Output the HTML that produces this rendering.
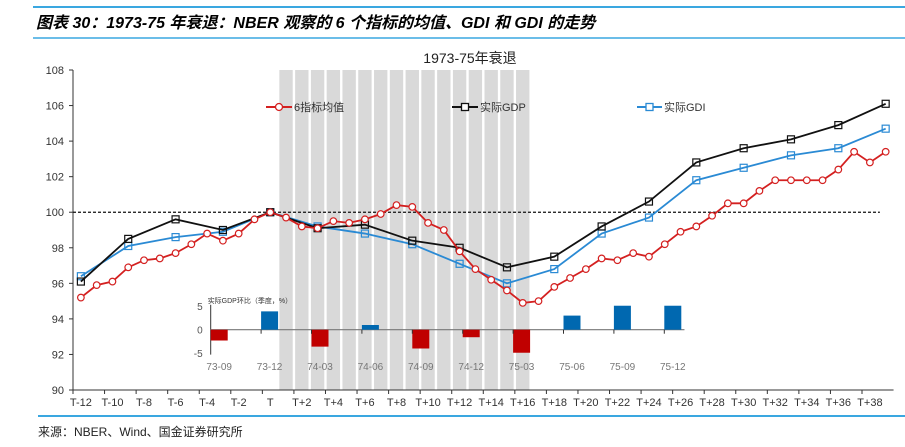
<!DOCTYPE html>
<html><head><meta charset="utf-8"><style>
body{margin:0;background:#fff;}
svg text{font-family:"Liberation Sans","Noto Sans CJK SC",sans-serif;}
</style></head><body>
<svg id="c" width="905" height="442" xmlns="http://www.w3.org/2000/svg">
<line x1="33" y1="7" x2="905" y2="7" stroke="#3aa7e0" stroke-width="2"/>
<text x="36" y="28" font-size="16" font-weight="bold" font-style="italic" fill="#000">图表 30：1973-75 年衰退：NBER 观察的 6 个指标的均值、GDI 和 GDI 的走势</text>
<line x1="33" y1="38" x2="905" y2="38" stroke="#3aa7e0" stroke-width="1.5"/>
<text x="470" y="63" font-size="14" text-anchor="middle" fill="#222">1973-75年衰退</text>
<g id="bands"></g>
<g id="axes"></g>
<g id="inset"></g>
<g id="lines"></g>
<g>
 <g><line x1="266" y1="107" x2="292" y2="107" stroke="#d42020" stroke-width="2"/><circle cx="279" cy="107" r="3.5" fill="#fff" stroke="#d42020" stroke-width="1.3"/><text x="294" y="111" font-size="11" fill="#333">6指标均值</text></g>
 <g><line x1="452" y1="107" x2="478" y2="107" stroke="#111" stroke-width="2"/><rect x="461.5" y="103.5" width="7" height="7" fill="#fff" stroke="#111" stroke-width="1.3"/><text x="480" y="111" font-size="11" fill="#333">实际GDP</text></g>
 <g><line x1="637" y1="107" x2="662" y2="107" stroke="#2a8ad4" stroke-width="2"/><rect x="646" y="103.5" width="7" height="7" fill="#fff" stroke="#2a8ad4" stroke-width="1.3"/><text x="664" y="111" font-size="11" fill="#333">实际GDI</text></g>
</g>
<line x1="38" y1="416" x2="905" y2="416" stroke="#3aa7e0" stroke-width="2"/>
<text x="38" y="436" font-size="12" fill="#222">来源：NBER、Wind、国金证券研究所</text>
</svg>
<script>
const months = [];
for (let m=-12;m<=39;m++) months.push(m);
const avgValues = [95.2,95.9,96.1,96.9,97.3,97.4,97.7,98.2,98.8,98.4,98.8,99.6,100,99.7,99.2,99.1,99.5,99.4,99.6,99.9,100.4,100.3,99.4,99.0,97.8,96.8,96.2,95.6,94.9,95.0,95.8,96.3,96.8,97.4,97.3,97.7,97.5,98.2,98.9,99.2,99.8,100.5,100.5,101.2,101.8,101.8,101.8,101.8,102.4,103.4,102.8,103.4];
const quarterMonths = [-12,-9,-6,-3,0,3,6,9,12,15,18,21,24,27,30,33,36,39];
const gdpValues = [96.1,98.5,99.6,99.0,100,99.1,99.3,98.4,98.0,96.9,97.5,99.2,100.6,102.8,103.6,104.1,104.9,106.1];
const gdiValues = [96.4,98.1,98.6,98.9,100,99.2,98.8,98.2,97.1,96.0,96.8,98.8,99.7,101.8,102.5,103.2,103.6,104.7];
const yTicks = [90,92,94,96,98,100,102,104,106,108];
const recessionStart = 1, recessionEnd = 16;
const insetCats = ["73-09","73-12","74-03","74-06","74-09","74-12","75-03","75-06","75-09","75-12"];
const insetValues = [-2.3,3.9,-3.6,1.0,-4.0,-1.6,-4.9,3.0,5.1,5.1];
const insetTicks = [-5,0,5];

const NS="http://www.w3.org/2000/svg";
function mk(tag,attrs,parent){const e=document.createElementNS(NS,tag);for(const k in attrs)e.setAttribute(k,attrs[k]);parent.appendChild(e);return e;}
const X0=73, CW=15.78;
const x = m => X0 + (m+12+0.5)*CW;
const y = v => 70 + (108-v)*(320/18);
const bands=document.getElementById('bands'), axes=document.getElementById('axes'), lines=document.getElementById('lines'), inset=document.getElementById('inset');

for(let m=recessionStart;m<=recessionEnd;m++){
  const r=mk('rect',{x:x(m)-CW/2+1.2,y:70,width:CW-2.4,height:320,fill:'#d9d9d9'},bands);
  
  
}
mk('line',{x1:X0,y1:70,x2:X0,y2:390,stroke:'#333','stroke-width':1},axes);
mk('line',{x1:X0,y1:390,x2:X0+52*CW,y2:390,stroke:'#333','stroke-width':1},axes);
yTicks.forEach(v=>{
  mk('line',{x1:X0-4,y1:y(v),x2:X0,y2:y(v),stroke:'#333'},axes);
  const t=mk('text',{x:X0-9,y:y(v)+4,'font-size':11,'text-anchor':'end',fill:'#333'},axes);
  t.textContent=v;
  
  
});
months.forEach(m=>{
  if((m+12)%2===0){
    mk('line',{x1:x(m)-CW/2,y1:390,x2:x(m)-CW/2,y2:394,stroke:'#333'},axes);
    if(m<=38){
      const t=mk('text',{x:x(m),y:406,'font-size':11,'text-anchor':'middle',fill:'#333'},axes);
      t.textContent = m===0?'T':(m<0?'T'+m:'T+'+m);
      
      
    }
  }
});
const ref=mk('line',{x1:X0,y1:y(100),x2:x(38)+10,y2:y(100),stroke:'#111','stroke-width':1.3,'stroke-dasharray':'3,2'},axes);



// inset
const IX0=210.7, IW=50.4, IZ=329.7, IS=4.7;
const iy=v=>IZ - v*IS;
mk('line',{x1:IX0,y1:iy(5.3),x2:IX0,y2:iy(-5.3),stroke:'#333'},inset);
mk('line',{x1:IX0,y1:IZ,x2:IX0+IW*9.4,y2:IZ,stroke:'#777','stroke-width':1.2},inset);
insetTicks.forEach(v=>{
  const t=mk('text',{x:IX0-8,y:iy(v)+4,'font-size':10,'text-anchor':'end',fill:'#555'},inset);
  t.textContent=v;
  
  
});
const it=mk('text',{x:IX0-3,y:303,'font-size':7,fill:'#333'},inset);
it.textContent='实际GDP环比（季度，%）';


insetCats.forEach((c,i)=>{
  const v=insetValues[i];
  const bx=IX0+IW*i;
  const b=mk('rect',{x:bx,y:Math.min(iy(v),IZ),width:17,height:Math.abs(v*IS),fill:v<0?'#c00000':'#0068b0'},inset);
  
  
  if(i>0) mk('line',{x1:bx,y1:IZ,x2:bx,y2:IZ+4,stroke:'#333'},inset);
  const t=mk('text',{x:bx+8.5,y:370,'font-size':10,'text-anchor':'middle',fill:'#777'},inset);
  t.textContent=c;
  
  
});

function series(xs,vals,color,marker,name){
  const p=mk('polyline',{points:xs.map((m,i)=>x(m)+','+y(vals[i])).join(' '),fill:'none',stroke:color,'stroke-width':1.8},lines);
  
  
  xs.forEach((m,i)=>{
    let e;
    if(marker==='c') e=mk('circle',{cx:x(m),cy:y(vals[i]),r:3.3,fill:'#fff',stroke:color,'stroke-width':1.2},lines);
    else e=mk('rect',{x:x(m)-3.5,y:y(vals[i])-3.5,width:7,height:7,fill:'none',stroke:color,'stroke-width':1.2},lines);
    
    
  });
}
series(quarterMonths,gdiValues,'#2a8ad4','s','gdi');
series(quarterMonths,gdpValues,'#111','s','gdp');
series(months,avgValues,'#d42020','c','avg');
</script>
</body></html>
